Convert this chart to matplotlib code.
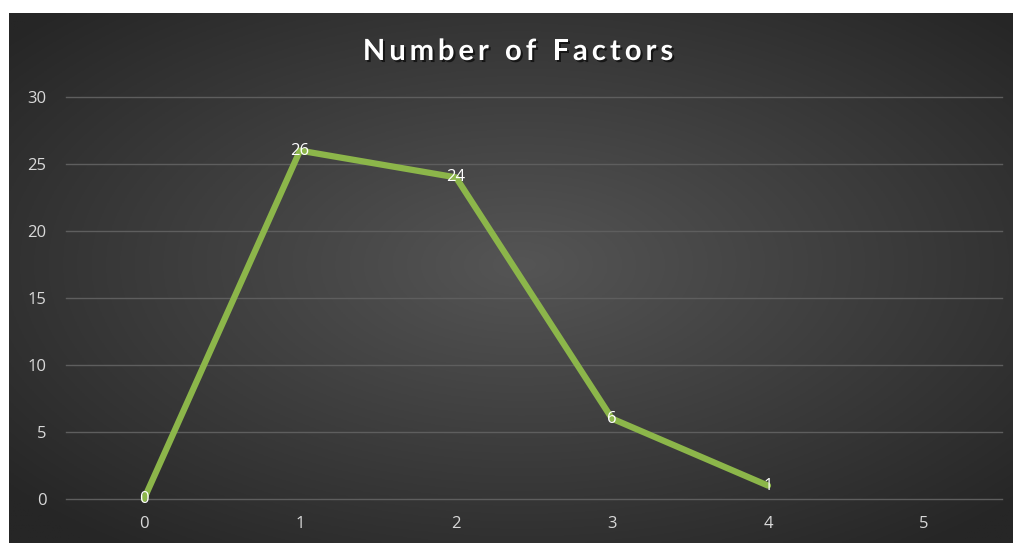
import numpy as np
import matplotlib
matplotlib.use("Agg")
import matplotlib.pyplot as plt
import matplotlib.patheffects as pe

categories = ["0", "1", "2", "3", "4", "5"]
values = [0, 26, 24, 6, 1]
yticks = [0, 5, 10, 15, 20, 25, 30]
title = "Number of Factors"

W, H = 1013, 543
fig = plt.figure(figsize=(W / 100, H / 100), dpi=100)
fig.patch.set_facecolor("white")

# background panel with radial gradient
bg = fig.add_axes([9 / W, 0, (W - 9) / W, (H - 13) / H])
bg.set_axis_off()
nx, ny = 400, 220
xx, yy = np.meshgrid(np.linspace(-1, 1, nx), np.linspace(-1, 1, ny))
r = np.sqrt((xx - 0.02) ** 2 + (yy + 0.05) ** 2) / np.sqrt(2)
c_in = np.array([0x55, 0x55, 0x55]) / 255
c_out = np.array([0x26, 0x26, 0x26]) / 255
t = np.clip(r / 0.95, 0, 1)[..., None]
img = c_in * (1 - t) + c_out * t
bg.imshow(img, aspect="auto", extent=[0, 1, 0, 1], origin="upper")
bg.set_xlim(0, 1)
bg.set_ylim(0, 1)

ax = fig.add_axes([66 / W, (H - 499) / H, (1002 - 66) / W, (499 - 97) / H])
ax.patch.set_alpha(0)
x = np.arange(len(values))
ax.plot(x, values, color="#8CB64A", lw=4.5, solid_capstyle="round",
        solid_joinstyle="round", clip_on=False, zorder=3)
for xi, v in zip(x, values):
    ax.text(xi, v, str(v), color="white", ha="center", va="center",
            fontsize=12, family="Open Sans", zorder=4)

ax.set_xlim(-0.5, len(categories) - 0.5)
ax.set_ylim(0, 30)
ax.set_xticks(range(len(categories)))
ax.set_xticklabels(categories)
ax.set_yticks(yticks)
for s in ax.spines.values():
    s.set_visible(False)
ax.tick_params(length=0, colors="#D9D9D9", labelsize=12)
ax.tick_params(axis="y", pad=14)
ax.tick_params(axis="x", pad=12)
for lab in ax.get_xticklabels() + ax.get_yticklabels():
    lab.set_family("Open Sans")
for yv in yticks:
    ax.axhline(yv, color="#5E5E5E", lw=1, zorder=1, clip_on=False)

# title with letter spacing
renderer = fig.canvas.get_renderer()
tkw = dict(color="white", fontsize=21, fontweight="bold", family="Lato",
           va="center", ha="left",
           path_effects=[pe.withSimplePatchShadow(offset=(1.5, -1.5),
                                                  shadow_rgbFace="black", alpha=0.6)])
spacing = 4.0  # px between characters
widths = []
for ch in title:
    if ch == " ":
        tt = fig.text(0, 0, "a", **tkw)
        w = tt.get_window_extent(renderer).width * 0.55
    else:
        tt = fig.text(0, 0, ch, **tkw)
        w = tt.get_window_extent(renderer).width
    tt.remove()
    widths.append(w)
total = sum(widths) + spacing * (len(title) - 1)
x0 = 518 - total / 2
ycen = 1 - 52 / H
for ch, w in zip(title, widths):
    if ch != " ":
        fig.text(x0 / W, ycen, ch, **tkw)
    x0 += w + spacing

fig.savefig("out.png", dpi=100, facecolor=fig.get_facecolor())
